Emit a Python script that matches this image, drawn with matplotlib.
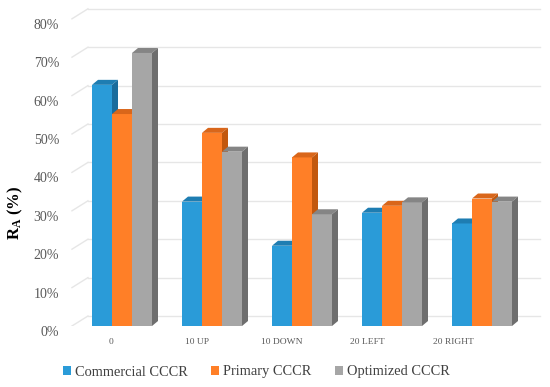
import numpy as np
import matplotlib.pyplot as plt
from matplotlib.patches import Polygon, Rectangle
from matplotlib.transforms import ScaledTranslation

plt.rcParams['font.family'] = ['Liberation Serif', 'DejaVu Serif']
plt.rcParams['mathtext.fontset'] = 'custom'
plt.rcParams['mathtext.rm'] = 'Liberation Serif'
plt.rcParams['mathtext.bf'] = 'Liberation Serif:bold'

categories = ["0", "10 UP", "10 DOWN", "20 LEFT", "20 RIGHT"]
series_names = ["Commercial CCCR", "Primary CCCR", "Optimized CCCR"]
commercial = [62.8, 32.4, 20.9, 29.5, 26.7]
primary = [55.2, 50.3, 43.9, 31.3, 33.2]
optimized = [71.1, 45.4, 29.1, 32.2, 32.4]
yticks = [0, 10, 20, 30, 40, 50, 60, 70, 80]

front = ["#2A9BD8", "#FF7F27", "#A6A6A6"]
side = ["#1A6C9C", "#C2580E", "#6E6E6E"]
top = ["#1E7DB2", "#D9661A", "#858585"]

fig = plt.figure(figsize=(5.5, 3.87), dpi=100)
# axes: px 66..545 horizontally, y=0 at px 326, top at px 5
ax = fig.add_axes([66 / 550, (387 - 326) / 387, (545 - 66) / 550, 321 / 387])
ax.set_xlim((66 - 122) / 90, (545 - 122) / 90)
ax.set_ylim(0, 321 / 3.84)

# depth offsets in data units
bx, by = 6 / 90, 5 / 3.84      # bar depth
wx, wy = 16 / 90, 10 / 3.84    # wall depth
w = 20 / 90
x = np.arange(len(categories))

# back wall gridlines
for t in yticks:
    ax.plot([-0.556, -0.556 + wx], [t, t + wy], color="#E6E6E6", lw=1, zorder=1)
    ax.plot([-0.556 + wx, 4.644], [t + wy, t + wy], color="#E6E6E6", lw=1, zorder=1)

data = [commercial, primary, optimized]
for s, vals in enumerate(data):
    for i, h in enumerate(vals):
        x0 = x[i] + (s - 1.5) * w
        z = 3 + s
        ax.add_patch(Rectangle((x0, 0), w, h, facecolor=front[s], edgecolor="none", zorder=z))
        ax.add_patch(Polygon([(x0, h), (x0 + w, h), (x0 + w + bx, h + by), (x0 + bx, h + by)],
                             closed=True, facecolor=top[s], edgecolor="none", zorder=z))
        ax.add_patch(Polygon([(x0 + w, 0), (x0 + w + bx, by), (x0 + w + bx, h + by), (x0 + w, h)],
                             closed=True, facecolor=side[s], edgecolor="none", zorder=z))

for sp in ax.spines.values():
    sp.set_visible(False)

ax.set_yticks(yticks)
ax.set_yticklabels([f"{t}%" for t in yticks], fontsize=10, color="#595959")
ax.tick_params(axis="y", length=0, pad=5)
for lab in ax.get_yticklabels():
    lab.set_transform(lab.get_transform() + ScaledTranslation(0, -5 / 100, fig.dpi_scale_trans))

ax.set_xticks(x - 0.122 - 0.05 * x)
ax.set_xticklabels(categories, fontsize=6.8, color="#595959")
ax.tick_params(axis="x", length=0, pad=8.5)

fig.text(0.028, 174 / 387, r"$\mathbf{R_A}$ (%)", rotation=90, fontsize=12,
         fontweight="bold", ha="center", va="center")

handles = [Rectangle((0, 0), 1, 1, facecolor=c, edgecolor="none") for c in front]
fig.legend(handles, series_names, loc="center", bbox_to_anchor=(0.466, (387 - 372) / 387),
           ncol=3, frameon=False, fontsize=10.4, handlelength=0.55, handleheight=0.55,
           handletextpad=0.3, columnspacing=1.6, labelcolor="#404040")

fig.savefig("out.png", dpi=100)
